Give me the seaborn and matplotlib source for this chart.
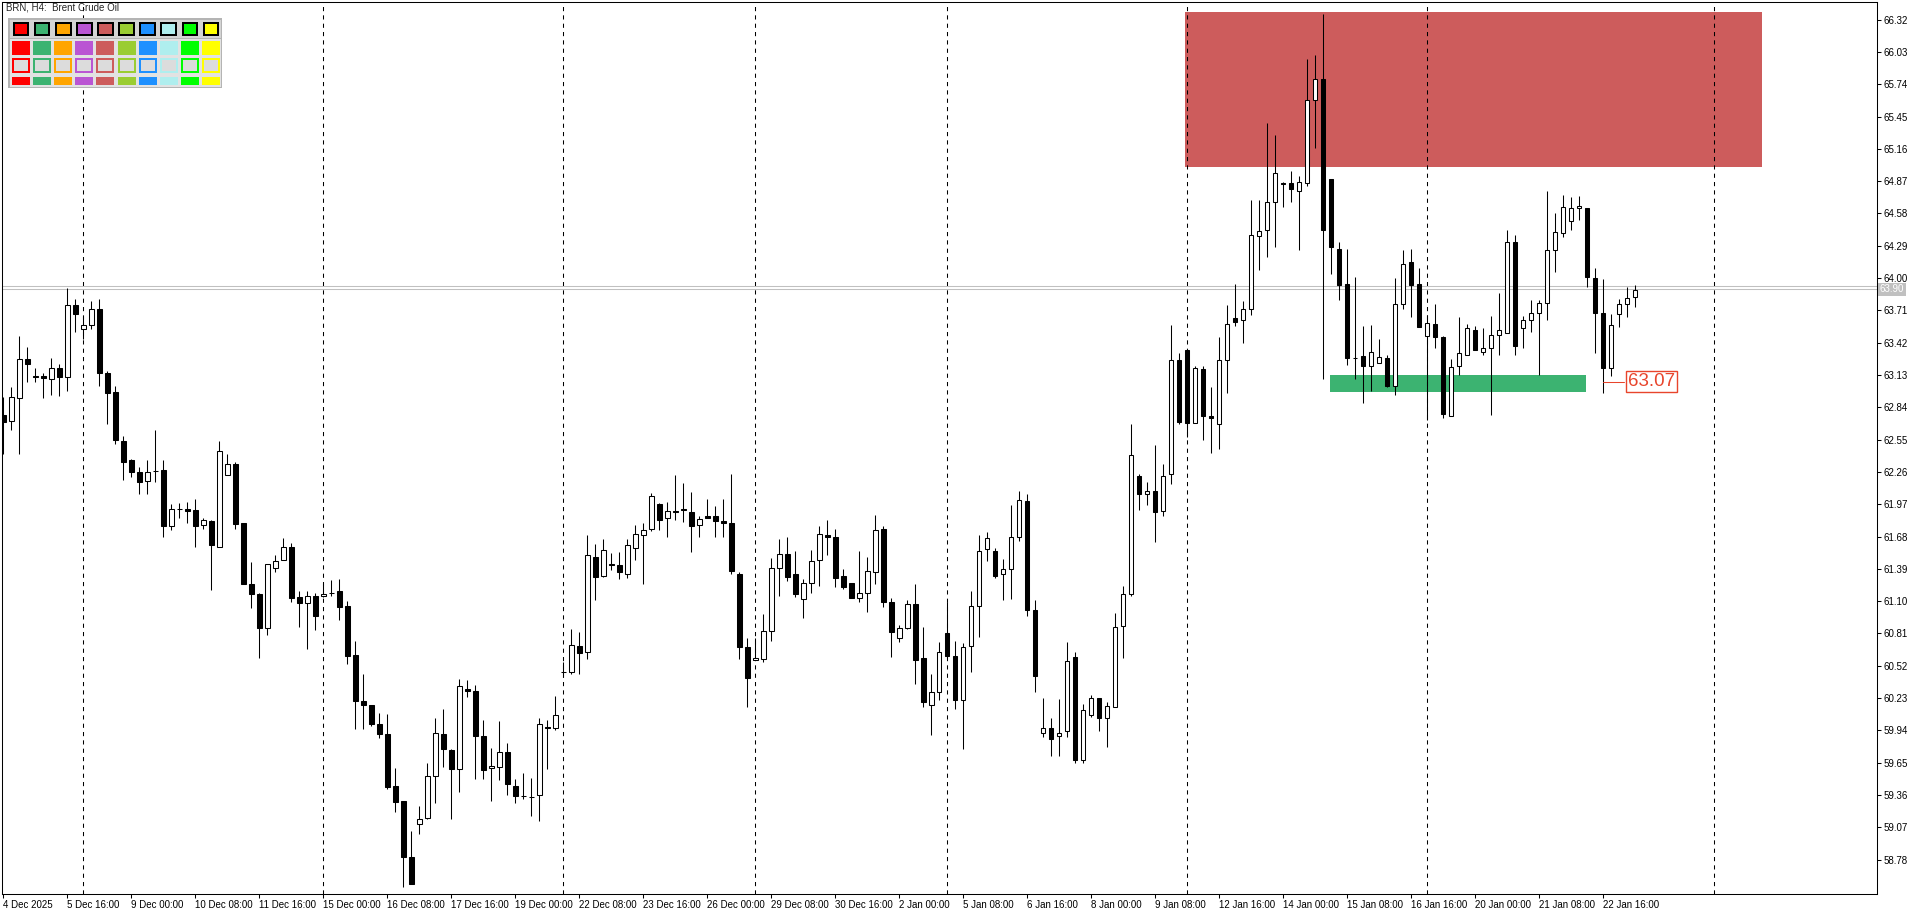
import numpy as np
import pandas as pd
import matplotlib
matplotlib.use("Agg")
import matplotlib.pyplot as plt
from matplotlib.patches import Rectangle
import seaborn as sns

# H4 candles, BRN (Brent Crude Oil)
opens = [62.77, 62.72, 62.92, 63.27, 63.12, 63.12, 63.09, 63.19, 63.11, 63.76,
         63.54, 63.58, 63.72, 63.15, 62.98, 62.54, 62.37, 62.26, 62.18, 62.27,
         62.28, 61.77, 61.93, 61.93, 61.92, 61.78, 61.82, 61.59, 62.23, 62.33,
         61.80, 61.25, 61.16, 60.86, 61.40, 61.47, 61.59, 61.14, 61.08, 61.15,
         61.15, 61.17, 61.19, 61.06, 60.62, 60.20, 60.17, 60.00, 59.91, 59.44,
         59.31, 58.80, 59.10, 59.15, 59.53, 59.91, 59.76, 59.59, 60.31, 60.29,
         59.89, 59.60, 59.61, 59.75, 59.44, 59.35, 59.34, 59.36, 59.97, 59.96,
         60.46, 60.46, 60.70, 60.64, 61.50, 61.33, 61.43, 61.42, 61.34, 61.58,
         61.69, 61.75, 61.97, 61.85, 61.91, 61.93, 61.90, 61.78, 61.86, 61.86,
         61.82, 61.80, 61.34, 60.69, 60.57, 60.58, 60.83, 61.40, 61.52, 61.34,
         61.12, 61.26, 61.47, 61.69, 61.68, 61.33, 61.26, 61.13, 61.17, 61.36,
         61.75, 61.09, 60.77, 60.86, 61.07, 60.59, 60.17, 60.28, 60.81, 60.61,
         60.21, 60.70, 61.06, 61.57, 61.55, 61.34, 61.39, 61.68, 62.00, 61.02,
         59.92, 59.96, 59.89, 59.93, 60.60, 59.67, 60.08, 60.23, 60.05, 60.15,
         60.88, 61.16, 62.22, 62.06, 62.09, 61.91, 62.24, 63.26, 63.35, 62.70,
         63.18, 62.76, 62.69, 63.26, 63.64, 63.62, 63.72, 64.38, 64.43, 64.68,
         64.85, 64.85, 64.78, 64.85, 65.60, 65.79, 64.89, 64.26, 63.95, 63.28,
         63.30, 63.21, 63.24, 63.28, 63.03, 63.77, 64.14, 63.95, 63.48, 63.59,
         63.47, 62.76, 63.21, 63.31, 63.53, 63.34, 63.37, 63.49, 63.51, 64.32,
         63.55, 63.62, 63.69, 63.78, 64.25, 64.40, 64.51, 64.63, 64.63, 64.00,
         63.69, 63.19, 63.68, 63.77, 63.83]
highs = [62.93, 63.02, 63.48, 63.38, 63.19, 63.15, 63.28, 63.23, 63.91, 63.81,
         63.66, 63.79, 63.81, 63.17, 63.03, 62.58, 62.38, 62.30, 62.37, 62.64,
         62.37, 61.97, 61.98, 61.99, 62.02, 61.85, 61.83, 62.54, 62.42, 62.35,
         61.80, 61.45, 61.17, 61.43, 61.51, 61.67, 61.62, 61.19, 61.19, 61.17,
         61.26, 61.29, 61.30, 61.10, 60.74, 60.45, 60.17, 60.10, 60.09, 59.60,
         59.31, 59.04, 59.26, 59.65, 60.05, 60.13, 59.77, 60.40, 60.39, 60.35,
         60.03, 59.78, 60.02, 59.83, 59.50, 59.56, 59.51, 60.05, 60.03, 60.25,
         60.55, 60.85, 60.82, 61.69, 61.61, 61.66, 61.53, 61.54, 61.66, 61.78,
         61.80, 62.07, 61.98, 61.99, 62.23, 62.16, 62.08, 61.86, 62.02, 61.95,
         62.02, 62.24, 61.36, 60.77, 60.77, 60.98, 61.49, 61.66, 61.68, 61.55,
         61.30, 61.56, 61.77, 61.83, 61.75, 61.39, 61.26, 61.55, 61.50, 61.87,
         61.77, 61.13, 60.89, 61.11, 61.25, 60.87, 60.45, 60.73, 61.09, 60.74,
         60.72, 61.19, 61.69, 61.72, 61.58, 61.48, 61.96, 62.09, 62.06, 61.11,
         60.23, 60.05, 60.22, 60.73, 60.64, 60.18, 60.26, 60.23, 60.19, 60.99,
         61.24, 62.69, 62.24, 62.17, 62.50, 62.33, 63.58, 63.33, 63.35, 63.21,
         63.21, 63.02, 63.47, 63.76, 63.95, 63.79, 64.70, 64.70, 65.39, 65.28,
         64.86, 64.96, 64.92, 65.97, 66.00, 66.37, 64.89, 64.32, 64.26, 64.01,
         63.57, 63.58, 63.45, 63.31, 64.00, 64.25, 64.26, 64.09, 63.67, 63.77,
         63.48, 63.27, 63.65, 63.59, 63.57, 63.55, 63.66, 63.87, 64.43, 64.39,
         63.66, 63.80, 63.80, 64.78, 64.58, 64.75, 64.73, 64.74, 64.63, 64.09,
         63.99, 63.68, 63.81, 63.92, 63.94]
lows = [62.42, 62.64, 62.42, 63.07, 63.07, 62.92, 62.95, 62.94, 62.99, 63.52,
        63.45, 63.54, 63.03, 62.69, 62.51, 62.19, 62.21, 62.06, 62.06, 62.17,
        61.68, 61.74, 61.85, 61.80, 61.59, 61.75, 61.20, 61.59, 62.23, 61.75,
        61.25, 61.04, 60.59, 60.80, 61.36, 61.47, 61.09, 60.87, 60.67, 60.84,
        61.14, 61.15, 60.93, 60.54, 59.95, 59.95, 59.98, 59.87, 59.41, 59.21,
        58.53, 58.56, 59.01, 59.14, 59.29, 59.61, 59.14, 59.39, 60.24, 59.50,
        59.50, 59.31, 59.49, 59.36, 59.29, 59.32, 59.17, 59.13, 59.59, 59.94,
        60.42, 60.45, 60.45, 60.58, 61.11, 61.32, 61.38, 61.30, 61.31, 61.47,
        61.25, 61.73, 61.74, 61.68, 61.83, 61.81, 61.54, 61.68, 61.85, 61.68,
        61.68, 61.34, 60.58, 60.15, 60.57, 60.55, 60.74, 61.15, 61.28, 61.14,
        60.95, 61.17, 61.24, 61.51, 61.23, 61.21, 61.13, 61.09, 61.00, 61.25,
        61.05, 60.60, 60.73, 60.85, 60.36, 60.15, 59.90, 60.21, 60.59, 60.13,
        59.77, 60.46, 60.78, 61.46, 61.31, 61.11, 61.12, 61.64, 60.97, 60.28,
        59.88, 59.71, 59.71, 59.88, 59.65, 59.65, 60.06, 59.93, 59.79, 60.15,
        60.59, 61.15, 61.92, 61.96, 61.63, 61.86, 62.15, 62.69, 62.57, 62.70,
        62.55, 62.43, 62.47, 62.97, 63.57, 63.42, 63.67, 64.07, 64.19, 64.28,
        64.64, 64.68, 64.25, 64.83, 65.17, 63.09, 64.04, 63.80, 63.22, 63.09,
        62.88, 62.99, 63.24, 63.02, 62.95, 63.72, 63.65, 63.56, 62.73, 63.37,
        62.74, 62.76, 63.13, 63.31, 63.35, 63.31, 62.77, 63.31, 63.51, 63.31,
        63.37, 63.52, 63.13, 63.62, 64.05, 64.37, 64.43, 64.52, 63.92, 63.33,
        62.97, 63.12, 63.56, 63.65, 63.74]
closes = [62.71, 62.93, 63.27, 63.23, 63.11, 63.10, 63.19, 63.11, 63.76, 63.68,
          63.58, 63.72, 63.15, 62.97, 62.55, 62.35, 62.26, 62.17, 62.26, 62.27,
          61.77, 61.93, 61.93, 61.91, 61.77, 61.83, 61.60, 62.45, 62.33, 61.79,
          61.25, 61.16, 60.86, 61.43, 61.46, 61.59, 61.13, 61.08, 61.15, 60.97,
          61.16, 61.17, 61.05, 60.61, 60.20, 60.17, 60.00, 59.91, 59.43, 59.30,
          58.80, 58.56, 59.14, 59.53, 59.92, 59.77, 59.59, 60.34, 60.29, 59.89,
          59.58, 59.62, 59.75, 59.46, 59.35, 59.35, 59.34, 60.00, 59.96, 60.08,
          60.46, 60.71, 60.63, 61.51, 61.32, 61.56, 61.42, 61.36, 61.60, 61.70,
          61.74, 62.04, 61.83, 61.91, 61.90, 61.92, 61.77, 61.84, 61.85, 61.82,
          61.80, 61.37, 60.69, 60.41, 60.59, 60.83, 61.40, 61.52, 61.32, 61.16,
          61.26, 61.46, 61.70, 61.68, 61.31, 61.23, 61.13, 61.17, 61.37, 61.74,
          61.09, 60.82, 60.86, 61.07, 60.57, 60.19, 60.28, 60.64, 60.61, 60.21,
          60.69, 61.06, 61.55, 61.67, 61.33, 61.39, 61.68, 62.01, 61.02, 60.43,
          59.96, 59.86, 59.92, 60.56, 59.67, 60.12, 60.23, 60.05, 60.16, 60.87,
          61.16, 62.41, 62.06, 62.09, 61.90, 62.22, 63.26, 62.71, 62.70, 63.19,
          62.76, 62.74, 63.26, 63.59, 63.61, 63.72, 64.39, 64.42, 64.68, 64.94,
          64.84, 64.80, 64.86, 65.60, 65.79, 64.43, 64.28, 63.94, 63.28, 63.28,
          63.21, 63.34, 63.29, 63.03, 63.77, 64.13, 63.94, 63.56, 63.60, 63.47,
          62.78, 63.20, 63.33, 63.55, 63.35, 63.37, 63.49, 63.53, 64.32, 63.39,
          63.62, 63.69, 63.78, 64.25, 64.41, 64.64, 64.63, 64.65, 64.01, 63.69,
          63.19, 63.58, 63.77, 63.82, 63.89]

date_labels = ["4 Dec 2025", "5 Dec 16:00", "9 Dec 00:00", "10 Dec 08:00", "11 Dec 16:00",
               "15 Dec 00:00", "16 Dec 08:00", "17 Dec 16:00", "19 Dec 00:00", "22 Dec 08:00",
               "23 Dec 16:00", "26 Dec 00:00", "29 Dec 08:00", "30 Dec 16:00", "2 Jan 00:00",
               "5 Jan 08:00", "6 Jan 16:00", "8 Jan 00:00", "9 Jan 08:00", "12 Jan 16:00",
               "14 Jan 00:00", "15 Jan 08:00", "16 Jan 16:00", "20 Jan 00:00", "21 Jan 08:00",
               "22 Jan 16:00"]
bars_per_label = 8
price_ticks = [66.32, 66.03, 65.74, 65.45, 65.16, 64.87, 64.58, 64.29, 64.00, 63.71,
               63.42, 63.13, 62.84, 62.55, 62.26, 61.97, 61.68, 61.39, 61.10, 60.81,
               60.52, 60.23, 59.94, 59.65, 59.36, 59.07, 58.78]
week_separators = [10, 40, 70, 94, 118, 148, 178, 213.9]

# zones: (first bar, last bar, lower price, upper price)
supply_zone = (147.75, 219.9, 65.00, 66.39)
demand_zone = (165.9, 197.9, 62.98, 63.13)
bid_price, ask_price = 63.90, 63.925
marked_low, marked_bar = 63.07, 200

palette = ["#FF0000", "#3CB371", "#FFA500", "#BA55D3", "#CD5C5C",
           "#9ACD32", "#1E90FF", "#AFEEEE", "#00FF00", "#FFFF00"]

sns.set_style("white")
plt.rcParams["font.family"] = ["Liberation Sans", "DejaVu Sans"]

W, H = 1920, 915
fig = plt.figure(figsize=(W / 100, H / 100), dpi=100)
ax = fig.add_axes([2 / W, 1 - 894 / H, 1875 / W, 892 / H])

df = pd.DataFrame({"open": opens, "high": highs, "low": lows, "close": closes})
df["bar"] = np.arange(len(df))
df["up"] = df["close"] >= df["open"]
df["body_lo"] = df[["open", "close"]].min(axis=1)
df["body_h"] = (df["close"] - df["open"]).abs()

# zones behind the candles
ax.add_patch(Rectangle((supply_zone[0], supply_zone[2]), supply_zone[1] - supply_zone[0],
                       supply_zone[3] - supply_zone[2], color="#CD5C5C", lw=0, zorder=1))
ax.add_patch(Rectangle((demand_zone[0], demand_zone[2]), demand_zone[1] - demand_zone[0],
                       demand_zone[3] - demand_zone[2], color="#3CB371", lw=0, zorder=1))

for s in week_separators:
    ax.axvline(s, color="black", lw=0.75, ls=(0, (4, 4)), zorder=2)

ax.axhline(bid_price, color="#c0c0c0", lw=0.75, zorder=2)
ax.axhline(ask_price, color="#c0c0c0", lw=0.75, zorder=2)

ax.vlines(df["bar"], df["low"], df["high"], color="black", lw=0.75, zorder=3)
ax.bar(df["bar"], df["body_h"], bottom=df["body_lo"], width=0.6,
       color=np.where(df["up"], "white", "black"), edgecolor="black", linewidth=0.75, zorder=4)

# low marker
lc = "#E8452C"
ax.plot([marked_bar, marked_bar + 2.6], [marked_low, marked_low], color=lc, lw=0.75, zorder=5)
ax.text(marked_bar + 6.05, marked_low, f"{marked_low:.2f}", ha="center", va="center",
        fontsize=13.5, color=lc, zorder=6,
        bbox=dict(boxstyle="square,pad=0.1", fc="white", ec=lc, lw=1))

ax.set_xlim(-0.15, 234.25)
ax.set_ylim(58.471, 66.478)

ax.set_xticks(np.arange(len(date_labels)) * bars_per_label)
ax.set_xticklabels(date_labels, ha="left")
ax.set_yticks(price_ticks)
ax.set_yticklabels([f"{p:.2f}" for p in price_ticks])
ax.yaxis.tick_right()
ax.tick_params(axis="x", bottom=True, direction="out", length=3, width=0.75, pad=1.5,
               labelsize=7, colors="black")
ax.tick_params(axis="y", right=True, left=False, direction="out", length=3, width=0.75,
               pad=1.5, labelsize=7, colors="black")
for lbl in ax.get_xticklabels():
    lbl.set_x(lbl.get_position()[0])
for sp in ax.spines.values():
    sp.set_color("black")
    sp.set_linewidth(0.75)

ax.annotate(f"{bid_price:.2f}", xy=(1, bid_price), xycoords=("axes fraction", "data"),
            xytext=(2, 0), textcoords="offset points", ha="left", va="center",
            fontsize=7, color="white",
            bbox=dict(boxstyle="square,pad=0.15", fc="#c0c0c0", ec="none"))

# title and colour panel (pixel layout of the terminal)
fig.text(6 / W, 1 - 8 / H, "BRN, H4:  Brent Crude Oil", fontsize=7, va="center", ha="left")


def px_rect(x, y, w, h, **kw):
    fig.add_artist(Rectangle((x / W, 1 - (y + h) / H), w / W, h / H,
                             transform=fig.transFigure, **kw))


px_rect(8, 18, 214, 70, fc="#b4b4b4", ec="none", zorder=10)
px_rect(10, 20, 211, 18, fc="#d4d4d4", ec="none", zorder=11)
px_rect(10, 39, 211, 48, fc="#e2e2e2", ec="none", zorder=11)
for i, c in enumerate(palette):
    x0 = 12 + 21.1 * i
    px_rect(x0 + 0.7, 22.3, 16.6, 13.7, fc="black", ec="none", zorder=12)
    px_rect(x0 + 2.7, 24.3, 12.6, 9.7, fc=c, ec="none", zorder=13)
    px_rect(x0, 41, 18, 14, fc=c, ec="none", zorder=12)
    px_rect(x0, 58.3, 18, 14.4, fc=c, ec="none", zorder=12)
    px_rect(x0 + 2, 60.3, 14, 10.4, fc="#dcdcdc", ec="none", zorder=13)
    px_rect(x0, 77.3, 18, 7.7, fc=c, ec="none", zorder=12)

fig.savefig("out.png", dpi=100)
